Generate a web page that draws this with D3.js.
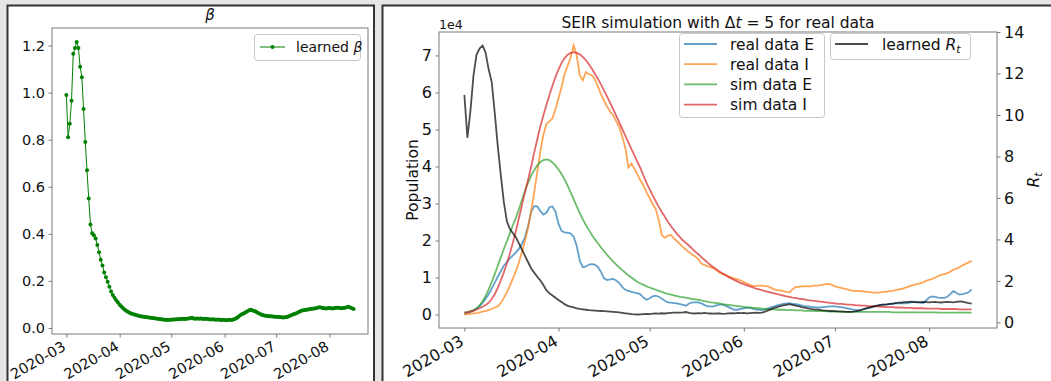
<!DOCTYPE html>
<html><head><meta charset="utf-8">
<script src="https://cdn.jsdelivr.net/npm/d3@7"></script>
<style>
html,body{margin:0;padding:0;background:#e6e6e6;}
svg{display:block;font-family:"DejaVu Sans",sans-serif;}
</style></head>
<body><svg id="c" width="1051" height="381"></svg>
<script>
// ---------------- data ----------------
const startDate = Date.UTC(2020, 2, 1);
const endDate = Date.UTC(2020, 7, 16);
const dates = d3.utcDay.range(startDate, endDate); // 2020-03-01 .. 2020-08-15 (168 days)
const monthTicks = ["2020-03","2020-04","2020-05","2020-06","2020-07","2020-08"];
const betaTicks = [0.0,0.2,0.4,0.6,0.8,1.0,1.2];
const popTicks = [0,1,2,3,4,5,6,7];
const rtTicks = [0,2,4,6,8,10,12,14];

const beta = [0.99,0.81,0.868,0.965,1.165,1.19,1.215,1.19,1.11,1.065,0.93,0.79,0.67,0.55,0.44,0.403,0.394,0.38,0.353,0.322,0.29,0.265,0.236,0.216,0.197,0.175,
0.155,0.14,0.128,0.118,0.108,0.099,0.091,0.084,0.078,0.072,0.068,0.064,0.061,0.058,0.056,0.054,0.052,0.050,0.049,0.048,
0.047,0.046,0.045,0.044,0.042,0.041,0.040,0.039,0.038,0.037,0.036,0.035,0.035,0.034,0.035,
0.035,0.036,0.036,0.037,0.037,0.038,0.038,0.039,0.038,0.039,0.040,0.041,0.044,0.040,0.039,0.040,0.039,0.040,0.039,0.038,0.039,0.038,0.037,0.036,0.037,0.036,0.035,0.036,0.035,0.034,0.035,
0.034,0.033,0.034,0.035,0.034,0.036,0.038,0.042,0.048,0.054,0.058,0.062,0.066,0.070,0.074,
0.078,0.075,0.072,0.070,0.066,0.062,0.058,0.055,0.053,0.052,0.051,0.050,0.050,0.049,0.048,
0.048,0.047,0.047,0.046,0.045,0.046,0.047,0.049,0.052,0.055,0.058,0.061,0.064,0.068,0.071,0.074,
0.075,0.077,0.078,0.080,0.081,0.082,0.083,0.084,0.086,0.088,0.087,0.085,0.084,0.083,0.084,0.085,0.084,0.083,0.085,0.086,0.086,0.085,0.084,0.085,0.086,0.088,0.090,0.087,0.084,0.081];

// population series in units of 1e4
const realE = [0.02,0.04,0.07,0.11,0.16,0.22,0.32,0.43,0.55,0.70,0.86,1.02,1.17,1.32,1.42,1.52,1.60,1.68,1.78,1.92,
2.10,2.40,2.78,2.93,2.92,2.80,2.70,2.75,2.90,2.92,2.78,2.45,2.26,2.22,2.21,2.19,2.10,1.85,1.45,1.28,
1.30,1.35,1.36,1.35,1.28,1.15,0.98,0.93,0.95,0.96,0.92,0.85,0.74,0.67,0.64,0.61,0.59,0.58,0.54,0.45,
0.40,0.44,0.49,0.51,0.48,0.43,0.37,0.33,0.32,0.31,0.30,0.28,0.26,0.24,0.30,0.33,0.33,0.33,0.30,0.26,
0.22,0.22,0.22,0.25,0.27,0.27,0.24,0.20,0.16,0.13,0.13,0.15,0.17,0.18,0.18,0.16,0.14,0.13,0.12,0.14,
0.17,0.20,0.22,0.25,0.27,0.29,0.30,0.30,0.29,0.28,0.27,0.25,0.23,0.22,0.21,0.20,0.19,0.19,0.20,0.21,
0.22,0.22,0.22,0.21,0.20,0.19,0.17,0.15,0.13,0.12,0.12,0.14,0.16,0.18,0.20,0.22,0.24,0.26,0.27,0.27,
0.28,0.29,0.30,0.30,0.30,0.30,0.31,0.33,0.35,0.34,0.32,0.31,0.38,0.46,0.49,0.48,0.46,0.45,0.45,0.48,
0.56,0.63,0.58,0.54,0.55,0.57,0.60,0.68];
const realI = [0.00,0.01,0.02,0.03,0.04,0.06,0.08,0.10,0.12,0.15,0.19,0.22,0.32,0.45,0.60,0.78,0.98,1.18,1.42,1.70,
2.00,2.35,2.80,3.30,3.85,4.40,4.85,5.15,5.22,5.30,5.55,5.85,6.15,6.50,6.72,6.95,7.27,7.00,6.46,6.33,
6.55,6.50,6.46,6.35,6.15,5.95,5.78,5.61,5.48,5.38,5.22,5.07,4.80,4.50,3.97,4.08,3.95,3.78,3.62,3.48,
3.30,3.15,2.98,2.85,2.55,2.15,2.07,2.13,2.15,2.06,1.98,1.90,1.82,1.75,1.68,1.62,1.57,1.50,1.38,1.34,
1.31,1.28,1.25,1.20,1.13,1.10,1.07,1.03,1.00,0.97,0.95,0.92,0.88,0.84,0.80,0.77,0.77,0.78,0.78,0.77,
0.76,0.72,0.68,0.66,0.65,0.63,0.61,0.60,0.68,0.74,0.75,0.76,0.76,0.77,0.76,0.78,0.78,0.79,0.81,0.82,
0.83,0.80,0.76,0.74,0.72,0.70,0.68,0.66,0.64,0.64,0.63,0.63,0.62,0.61,0.60,0.59,0.59,0.60,0.61,0.62,
0.63,0.64,0.66,0.68,0.69,0.72,0.75,0.78,0.80,0.82,0.84,0.87,0.91,0.94,0.96,1.00,1.04,1.07,1.09,1.12,
1.16,1.21,1.24,1.28,1.33,1.37,1.41,1.45];
const simE = [0.05,0.07,0.09,0.12,0.17,0.25,0.36,0.50,0.68,0.88,1.09,1.32,1.55,1.77,1.98,2.20,2.42,2.62,2.86,3.10,
3.35,3.57,3.76,3.90,4.03,4.12,4.17,4.19,4.17,4.11,4.03,3.92,3.80,3.65,3.48,3.30,3.11,2.92,2.74,2.57,
2.42,2.28,2.15,2.03,1.92,1.81,1.71,1.61,1.52,1.43,1.35,1.27,1.20,1.13,1.06,1.00,0.94,0.88,0.84,0.80,
0.76,0.73,0.70,0.67,0.64,0.61,0.58,0.56,0.54,0.52,0.50,0.48,0.47,0.45,0.44,0.42,0.41,0.40,0.38,0.36,
0.35,0.33,0.32,0.31,0.30,0.28,0.27,0.26,0.25,0.24,0.23,0.22,0.21,0.20,0.19,0.18,0.17,0.17,0.16,0.15,
0.15,0.14,0.14,0.13,0.13,0.13,0.12,0.12,0.12,0.11,0.11,0.11,0.10,0.10,0.10,0.10,0.09,0.09,0.09,0.09,
0.08,0.08,0.08,0.08,0.08,0.07,0.07,0.07,0.07,0.07,0.07,0.07,0.07,0.07,0.07,0.07,0.07,0.07,0.07,0.07,
0.07,0.06,0.06,0.06,0.06,0.06,0.06,0.06,0.06,0.06,0.06,0.06,0.06,0.06,0.06,0.06,0.05,0.05,0.05,0.05,
0.05,0.05,0.05,0.05,0.05,0.05,0.05,0.05];
const simI = [0.05,0.06,0.08,0.10,0.13,0.17,0.21,0.26,0.32,0.42,0.55,0.72,0.92,1.14,1.38,1.65,1.95,2.27,2.62,2.97,
3.32,3.65,4.00,4.38,4.73,5.08,5.38,5.66,5.93,6.18,6.42,6.62,6.80,6.93,7.02,7.07,7.09,7.07,7.03,6.96,
6.87,6.76,6.64,6.50,6.36,6.21,6.05,5.89,5.72,5.55,5.37,5.19,5.01,4.83,4.65,4.47,4.30,4.12,3.95,3.75,
3.55,3.38,3.22,3.06,2.91,2.77,2.64,2.51,2.39,2.28,2.18,2.09,2.00,1.93,1.86,1.78,1.70,1.63,1.55,1.48,
1.41,1.34,1.28,1.22,1.16,1.11,1.06,1.01,0.97,0.93,0.89,0.85,0.82,0.79,0.76,0.73,0.70,0.68,0.66,0.63,
0.61,0.59,0.57,0.55,0.53,0.51,0.49,0.48,0.46,0.45,0.43,0.42,0.41,0.39,0.38,0.37,0.36,0.35,0.34,0.33,
0.32,0.31,0.30,0.29,0.29,0.28,0.27,0.27,0.26,0.25,0.25,0.24,0.24,0.23,0.23,0.22,0.22,0.21,0.21,0.20,
0.20,0.20,0.19,0.19,0.19,0.18,0.18,0.18,0.17,0.17,0.17,0.17,0.16,0.16,0.16,0.16,0.16,0.15,0.15,0.15,
0.15,0.15,0.15,0.14,0.14,0.14,0.14,0.14];
const rt = [10.97,8.9,10.2,11.9,12.9,13.2,13.35,13.0,12.2,11.6,10.1,8.5,7.1,5.8,4.87,4.5,4.3,4.1,3.8,3.5,
3.2,2.9,2.6,2.4,2.2,2.03,1.8,1.55,1.4,1.3,1.19,1.08,0.98,0.88,0.8,0.76,0.72,0.68,0.65,0.63,
0.61,0.59,0.58,0.57,0.56,0.55,0.54,0.53,0.52,0.51,0.50,0.48,0.46,0.44,0.42,0.40,0.39,0.38,0.39,0.40,
0.41,0.40,0.42,0.43,0.42,0.44,0.43,0.45,0.46,0.47,0.47,0.47,0.48,0.50,0.46,0.44,0.43,0.45,0.44,0.46,
0.44,0.43,0.42,0.43,0.43,0.41,0.42,0.44,0.45,0.44,0.46,0.45,0.46,0.44,0.45,0.46,0.47,0.46,0.47,0.52,
0.58,0.64,0.70,0.74,0.78,0.82,0.85,0.88,0.85,0.81,0.78,0.74,0.71,0.68,0.65,0.63,0.62,0.60,0.58,0.57,
0.56,0.55,0.54,0.53,0.52,0.52,0.51,0.51,0.52,0.54,0.57,0.61,0.66,0.70,0.74,0.78,0.81,0.84,0.86,0.87,
0.89,0.91,0.93,0.95,0.96,0.98,0.99,1.00,0.98,0.97,0.98,0.99,0.98,0.97,0.98,0.99,0.97,0.96,0.98,0.99,
0.98,0.97,0.99,1.01,1.00,0.96,0.93,0.91];

const popSeries = [
  {name:"real data E", values: realE, color:"#1f77b4"},
  {name:"real data I", values: realI, color:"#ff7f0e"},
  {name:"sim data E", values: simE, color:"#2ca02c"},
  {name:"sim data I", values: simI, color:"#d62728"}
];

// ---------------- drawing ----------------
const svg = d3.select("#c");
const FONT = '"DejaVu Sans", sans-serif';
const spine = "#7a7a7a";

// panel frames
svg.append("rect").attr("x",7.5).attr("y",5.5).attr("width",366.5).attr("height",400)
  .attr("fill","#fff").attr("stroke","#333").attr("stroke-width",2);
svg.append("rect").attr("x",382.5).attr("y",5.5).attr("width",700).attr("height",400)
  .attr("fill","#fff").attr("stroke","#333").attr("stroke-width",2);

const pad = 8.35 * 864e5;
const xDomain = [new Date(startDate - pad), new Date(Date.UTC(2020,7,15) + pad)];
const monthDates = monthTicks.map(s => d3.utcParse("%Y-%m")(s));
const fmtMonth = d3.utcFormat("%Y-%m");

function dateAxis(g, x, y0, fs) {
  const ax = d3.axisBottom(x).tickValues(monthDates).tickFormat(fmtMonth).tickSize(3.5).tickPadding(3);
  const a = g.append("g").attr("transform", `translate(0,${y0})`).call(ax);
  a.select(".domain").remove();
  a.selectAll(".tick line").attr("stroke", spine);
  a.selectAll(".tick text")
    .attr("font-family", FONT).attr("font-size", fs).attr("fill", "#111")
    .attr("text-anchor", "end").attr("dy", "0.71em").attr("y", 0)
    .attr("transform", `translate(${-0.36*fs},${3.5+3}) rotate(-30)`);
}

function styleYAxis(a, fs) {
  a.select(".domain").remove();
  a.selectAll(".tick line").attr("stroke", spine);
  a.selectAll(".tick text").attr("font-family", FONT).attr("font-size", fs).attr("fill", "#111");
}

// ===== Left panel: beta =====
{
  const L = {l:52, r:368, t:28, b:334};
  const fs = 14.5;
  const x = d3.scaleUtc().domain(xDomain).range([L.l, L.r]);
  const y = d3.scaleLinear().domain([-0.0255, 1.2745]).range([L.b, L.t]);
  const g = svg.append("g");
  dateAxis(g, x, L.b, fs);
  const ya = g.append("g").attr("transform", `translate(${L.l},0)`)
    .call(d3.axisLeft(y).tickValues(betaTicks).tickFormat(d3.format(".1f")).tickSize(3.5).tickPadding(3.5));
  styleYAxis(ya, fs);
  g.append("rect").attr("x",L.l).attr("y",L.t).attr("width",L.r-L.l).attr("height",L.b-L.t)
    .attr("fill","none").attr("stroke",spine).attr("stroke-width",1);
  const line = d3.line().x((d,i)=>x(dates[i])).y(d=>y(d));
  g.append("path").datum(beta).attr("d", line).attr("fill","none").attr("stroke","#008000").attr("stroke-width",1);
  g.selectAll("circle.b").data(beta).enter().append("circle")
    .attr("cx",(d,i)=>x(dates[i])).attr("cy",d=>y(d)).attr("r",2).attr("fill","#008000");
  // title
  svg.append("text").attr("x",(L.l+L.r)/2).attr("y",L.t-8).attr("text-anchor","middle")
    .attr("font-family",FONT).attr("font-size",15).attr("font-style","italic").attr("fill","#111").text("β");
  // legend
  const lg = g.append("g");
  lg.append("rect").attr("x",254.5).attr("y",34.5).attr("width",106).attr("height",26).attr("rx",3)
    .attr("fill","#fff").attr("fill-opacity",0.8).attr("stroke","#c8c8c8");
  lg.append("line").attr("x1",260).attr("x2",285).attr("y1",47).attr("y2",47).attr("stroke","#008000").attr("stroke-width",1);
  lg.append("circle").attr("cx",272.5).attr("cy",47).attr("r",2).attr("fill","#008000");
  const lt = lg.append("text").attr("x",296).attr("y",52).attr("font-family",FONT).attr("font-size",14).attr("fill","#111");
  lt.append("tspan").text("learned ");
  lt.append("tspan").attr("font-style","italic").text("β");
}

// ===== Right panel: SEIR =====
{
  const R = {l:439, r:997, t:32, b:328};
  const fs = 16;
  const x = d3.scaleUtc().domain(xDomain).range([R.l, R.r]);
  const y = d3.scaleLinear().domain([-0.3635, 7.6335]).range([R.b, R.t]);
  const y2 = d3.scaleLinear().domain([-0.27, 14.0]).range([R.b, R.t]);
  const g = svg.append("g");
  dateAxis(g, x, R.b, fs);
  const ya = g.append("g").attr("transform", `translate(${R.l},0)`)
    .call(d3.axisLeft(y).tickValues(popTicks).tickFormat(d3.format("d")).tickSize(3.5).tickPadding(3.5));
  styleYAxis(ya, fs);
  const ya2 = g.append("g").attr("transform", `translate(${R.r},0)`)
    .call(d3.axisRight(y2).tickValues(rtTicks).tickFormat(d3.format("d")).tickSize(3.5).tickPadding(3.5));
  styleYAxis(ya2, fs);
  g.append("rect").attr("x",R.l).attr("y",R.t).attr("width",R.r-R.l).attr("height",R.b-R.t)
    .attr("fill","none").attr("stroke",spine).attr("stroke-width",1);

  const line = d3.line().x((d,i)=>x(dates[i])).y(d=>y(d));
  popSeries.forEach(s => {
    g.append("path").datum(s.values).attr("d", line).attr("fill","none")
      .attr("stroke", s.color).attr("stroke-opacity",0.7).attr("stroke-width",1.8);
  });
  // legend 1
  const lfs = 15.5;
  const lg = g.append("g");
  lg.append("rect").attr("x",679.5).attr("y",33.5).attr("width",145).attr("height",84).attr("rx",3)
    .attr("fill","#fff").attr("fill-opacity",0.8).attr("stroke","#c8c8c8");
  popSeries.forEach((s,i) => {
    const yy = 44 + i*20.2;
    lg.append("line").attr("x1",684).attr("x2",717).attr("y1",yy).attr("y2",yy)
      .attr("stroke",s.color).attr("stroke-opacity",0.7).attr("stroke-width",1.8);
    lg.append("text").attr("x",730).attr("y",yy+5.5).attr("font-family",FONT).attr("font-size",lfs)
      .attr("fill","#111").text(s.name);
  });

  const line2 = d3.line().x((d,i)=>x(dates[i])).y(d=>y2(d));
  g.append("path").datum(rt).attr("d", line2).attr("fill","none")
    .attr("stroke","#000").attr("stroke-opacity",0.7).attr("stroke-width",1.8);
  // legend 2
  const lg2 = g.append("g");
  lg2.append("rect").attr("x",830.5).attr("y",33.5).attr("width",140).attr("height",26).attr("rx",3)
    .attr("fill","#fff").attr("fill-opacity",0.8).attr("stroke","#c8c8c8");
  lg2.append("line").attr("x1",835).attr("x2",868).attr("y1",44).attr("y2",44)
    .attr("stroke","#000").attr("stroke-opacity",0.7).attr("stroke-width",1.8);
  const t2 = lg2.append("text").attr("x",882).attr("y",49.5).attr("font-family",FONT).attr("font-size",lfs).attr("fill","#111");
  t2.append("tspan").text("learned ");
  t2.append("tspan").attr("font-style","italic").text("R");
  t2.append("tspan").attr("font-style","italic").attr("font-size",lfs*0.7).attr("dy",3).text("t");

  // title
  const tt = svg.append("text").attr("x",(R.l+R.r)/2).attr("y",R.t-4).attr("text-anchor","middle")
    .attr("font-family",FONT).attr("font-size",15.5).attr("fill","#111");
  tt.append("tspan").text("SEIR simulation with Δ");
  tt.append("tspan").attr("font-style","italic").text("t");
  tt.append("tspan").text(" = 5 for real data");
  // offset text
  svg.append("text").attr("x",R.l).attr("y",R.t-3).attr("font-family",FONT).attr("font-size",12.5)
    .attr("fill","#111").text("1e4");
  // y labels
  svg.append("text").attr("transform",`translate(418,${(R.t+R.b)/2}) rotate(-90)`).attr("text-anchor","middle")
    .attr("font-family",FONT).attr("font-size",15.5).attr("fill","#111").text("Population");
  const rl = svg.append("text").attr("transform",`translate(1039,${(R.t+R.b)/2}) rotate(-90)`).attr("text-anchor","middle")
    .attr("font-family",FONT).attr("font-size",15.5).attr("fill","#111");
  rl.append("tspan").attr("font-style","italic").text("R");
  rl.append("tspan").attr("font-style","italic").attr("font-size",15.5*0.7).attr("dy",3).text("t");
}
</script>
</body></html>
